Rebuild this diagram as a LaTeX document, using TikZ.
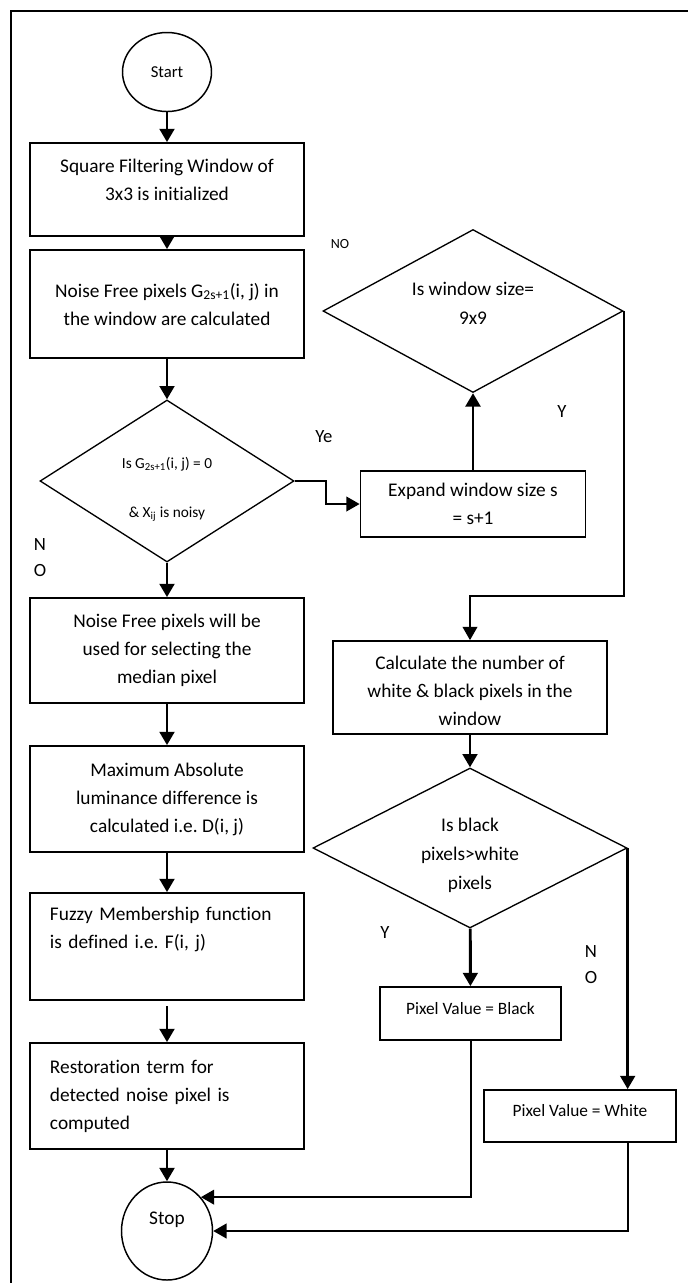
\documentclass[tikz,border=0pt]{standalone}
\usepackage{fontspec}
\setmainfont{Carlito}[Ligatures=CommonOff]
\usetikzlibrary{shapes.geometric,arrows.meta}
\frenchspacing

\tikzset{every picture/.style={line width=0.75pt}}
\tikzset{
  procbox/.style={draw, rectangle, line width=1.3pt, inner sep=2pt, align=center,
    minimum width=205.5pt, font=\fontsize{14.5}{21}\selectfont},
  leftbox/.style={procbox, align=left, text width=175.5pt, inner xsep=15pt},
  decide/.style={draw, diamond, line width=1pt, inner sep=-14pt, align=center,
    font=\fontsize{14.5}{21.75}\selectfont},
  term/.style={draw, ellipse, line width=1.1pt, inner sep=0pt, align=center,
    font=\fontsize{12.5}{15}\selectfont},
  pixbox/.style={procbox, font=\fontsize{13}{16}\selectfont},
  arr/.style={line width=2.2pt, -{Triangle[width=11pt,length=10pt]}},
  flow/.style={line width=1.5pt, -{Triangle[width=11pt,length=10pt]}},
  lbl/.style={inner sep=0pt, align=center, font=\fontsize{14}{19.5}\selectfont},
}

\begin{document}
\begin{tikzpicture}[x=0.75pt,y=0.75pt,yscale=-1,xscale=1]
\useasboundingbox (0,0) rectangle (688,1283);

%Frame
\draw [line width=2pt] (11,1283) -- (11,11) -- (688,11);

% left column
\node [term, minimum width=66.75pt, minimum height=59.25pt] (start) at (167,72) {Start};
\node [procbox, minimum height=69.75pt] (init) at (167,189.5) {Square Filtering Window of\\3x3 is initialized\\[-6.8pt]\mbox{}};
\node [procbox, minimum height=81pt] (freepix) at (167,304) {Noise Free pixels G\textsubscript{2s+1}(i, j) in\\the window are calculated};
\node [decide, minimum width=190.5pt, minimum height=121.5pt, font=\fontsize{11.5}{37}\selectfont] (zero) at (167,481) {\mbox{}\\[-16pt]Is G\textsubscript{2s+1}(i, j) = 0\\\& X\textsubscript{ij} is noisy};
\node [procbox, minimum height=78.75pt] (median) at (167,650.5) {Noise Free pixels will be\\used for selecting the\\median pixel};
\node [procbox, minimum height=79.5pt] (maxdiff) at (167,799) {Maximum Absolute\\luminance difference is\\calculated i.e. D(i, j)};
\node [leftbox, minimum height=80.25pt] (fuzzy) at (167,946.5) {Fuzzy Membership function\\is defined i.e. F(i, j)\\[7.4pt]\mbox{}};
\node [leftbox, minimum height=79.5pt] (restore) at (167,1096) {Restoration term for\\detected noise pixel is\\computed};
\node [term, minimum width=68.25pt, minimum height=73.5pt, font=\fontsize{14.5}{17}\selectfont] (stop) at (167,1231) {Stop\\[2.4pt]\mbox{}};

% right column
\node [decide, minimum width=225pt, minimum height=122.25pt] (size) at (473,311) {Is window size=\\9x9\\[-10.5pt]\mbox{}};
\node [procbox, minimum width=168.75pt, minimum height=49.5pt] (expand) at (473,504) {Expand window size s\\= s+1};
\node [procbox, minimum height=69.75pt] (count) at (470,687.5) {\mbox{}\\[-5.25pt]Calculate the number of\\white \& black pixels in the\\window};
\node [decide, minimum width=235.5pt, minimum height=120pt] (compare) at (470,848) {\mbox{}\\Is black\\pixels>white\\pixels};
\node [pixbox, minimum width=135.75pt, minimum height=39.75pt] (black) at (470.5,1013.5) {Pixel Value = Black\\[-8pt]\mbox{}};
\node [pixbox, minimum width=144pt, minimum height=39pt] (white) at (580,1116) {Pixel Value = White\\[-8pt]\mbox{}};

% branch labels
\node [lbl, font=\fontsize{10.5}{12}\selectfont] (noA) at (340,244) {NO};
\node [lbl] (yA) at (562,412) {Y};
\node [lbl] (yeA) at (324,437) {Ye};
\node [lbl] (noB) at (40,558) {N\\O};
\node [lbl] (yB) at (385,932) {Y};
\node [lbl] (noC) at (591,965) {N\\O};

% connectors
\draw [arr] (start) -- (init);
\draw [arr] (init) -- (freepix);
\draw [arr] (freepix) -- (zero);
\draw [arr] (zero) -- (median);
\draw [arr] (median) -- (maxdiff);
\draw [arr] (maxdiff) -- (fuzzy);
\draw [arr, shorten <=4pt] (fuzzy) -- (restore);
\draw [arr] (restore) -- (stop);
\draw [flow] (zero.east) -- ++(31,0) |- (expand.west);
\draw [arr] (expand) -- (size);
\draw [flow] (size.east) -- ++(0,285) -| (count.north);
\draw [arr] (count) -- (compare);
\draw [arr] (compare) -- (black);
\draw [arr] (compare.east) -- (compare.east |- white.north);
\draw [flow] (black.south) |- (stop.45);
\draw [flow] (compare.east |- white.south) |- (stop.east);

\end{tikzpicture}
\end{document}
